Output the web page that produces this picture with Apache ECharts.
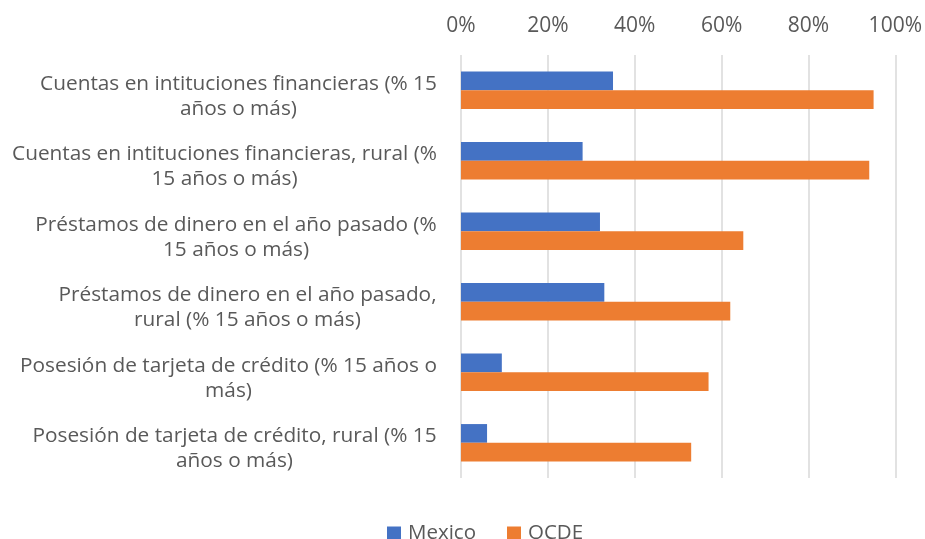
<!DOCTYPE html>
<html>
<head>
<meta charset="utf-8">
<script src="https://cdn.jsdelivr.net/npm/echarts@6/dist/echarts.min.js"></script>
<style>
  html, body { margin: 0; background: #fff; }
  #chart { width: 925px; height: 539px; }
</style>
</head>
<body>
<div id="chart"></div>
<script>
const categories = [
  'Cuentas en intituciones financieras (% 15\naños o más)',
  'Cuentas en intituciones financieras, rural (%\n15 años o más)',
  'Préstamos de dinero en el año pasado (%\n15 años o más)',
  'Préstamos de dinero en el año pasado,\nrural (% 15 años o más)',
  'Posesión de tarjeta de crédito (% 15 años o\nmás)',
  'Posesión de tarjeta de crédito, rural (% 15\naños o más)',
]
const mexico = [0.35, 0.28, 0.32, 0.33, 0.094, 0.06]
const ocde = [0.95, 0.94, 0.65, 0.62, 0.57, 0.53]

const labelFont = 'Open Sans'
const labelSize = 20.8

// each label block is right-aligned, its lines centred inside it (Excel style)
const ctx = document.createElement('canvas').getContext('2d')
ctx.font = labelSize + 'px "' + labelFont + '"'
const rich = {}
categories.forEach((c, i) => {
  const w = Math.max(...c.split('\n').map((s) => ctx.measureText(s).width))
  rich['l' + i] = {
    width: Math.ceil(w),
    align: 'center',
    fontSize: labelSize,
    fontFamily: labelFont,
    lineHeight: 25,
    color: '#595959',
  }
})

const chart = echarts.init(document.getElementById('chart'))

chart.setOption({
  backgroundColor: '#fff',
  animation: false,
  color: ['#4472C4', '#ED7D31'],
  grid: { left: 461, right: 28, top: 55, bottom: 61 },
  legend: {
    top: 518,
    left: 382,
    itemWidth: 14,
    itemHeight: 14,
    itemGap: 31,
    icon: 'rect',
    textStyle: { color: '#595959', fontSize: 20.5, fontFamily: labelFont, padding: [0, 0, 0, 2] },
    data: ['Mexico', 'OCDE'],
  },
  xAxis: {
    type: 'value',
    position: 'top',
    min: 0,
    max: 1,
    interval: 0.2,
    axisLine: { show: false },
    axisTick: { show: false },
    axisLabel: {
      margin: 18,
      color: '#595959',
      fontSize: 21,
      fontFamily: labelFont,
      formatter: (v) => Math.round(v * 100) + '%',
    },
    splitLine: { lineStyle: { color: '#d9d9d9', width: 1.5 } },
  },
  yAxis: {
    type: 'category',
    inverse: true,
    data: categories,
    axisLine: { show: false },
    axisTick: { show: false },
    axisLabel: {
      margin: 24,
      align: 'right',
      padding: [12, 0, 0, 0],
      formatter: (v, i) => v.split('\n').map((s) => '{l' + i + '|' + s + '}').join('\n'),
      rich: rich,
    },
  },
  series: [
    {
      name: 'Mexico',
      type: 'bar',
      data: mexico,
      barGap: '0%',
      barCategoryGap: '47%',
    },
    {
      name: 'OCDE',
      type: 'bar',
      data: ocde,
      barGap: '0%',
      barCategoryGap: '47%',
    },
  ],
})
</script>
</body>
</html>
